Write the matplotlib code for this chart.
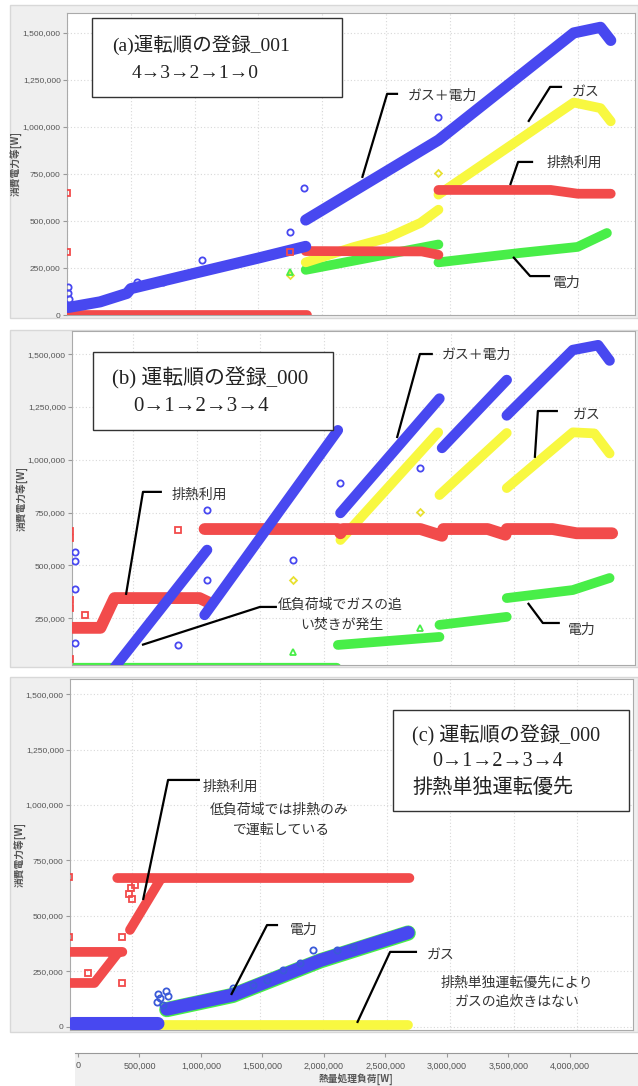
import numpy as np
import matplotlib
matplotlib.use("Agg")
import matplotlib.pyplot as plt
from matplotlib.patches import Rectangle
from matplotlib.ticker import FuncFormatter

plt.rcParams['font.family'] = ['Noto Sans CJK JP', 'DejaVu Sans']

nan = np.nan

# series colours
C_BLUE = '#4848f0'
C_RED = '#f24b4b'
C_YEL = '#f8f840'
C_GRN = '#48ee48'

# all values in thousands of W, nan breaks a series into segments
# (a) order 4->3->2->1->0
A_BLUE_X = [10, 260, 470, 500, 1000, 1500, 1870, nan, 1870, 2910, 3970, 4180, 4260]
A_BLUE_Y = [40, 70, 115, 140, 222, 303, 365, nan, 505, 930, 1500, 1530, 1460]
A_YEL_X = [1870, 2240, 2510, 2770, 2910, nan, 2910, 3970, 4180, 4260]
A_YEL_Y = [280, 360, 410, 490, 560, nan, 640, 1130, 1100, 1030]
A_RED_X = [0, 1880, nan, 1870, 2780, 2910, nan, 2910, 3790, 4000, 4260]
A_RED_Y = [0, 0, nan, 340, 338, 320, nan, 665, 665, 645, 645]
A_GRN_X = [1870, 2910, nan, 2910, 3550, 4000, 4230]
A_GRN_Y = [240, 375, nan, 280, 330, 362, 436]

A_BLUE_PTS_X = [10, 10, 15, 550, 750, 1060, 1750, 1860, 2910]
A_BLUE_PTS_Y = [150, 115, 85, 176, 176, 293, 443, 675, 1055]
A_RED_PTS_X = [0, 0, 1750]
A_RED_PTS_Y = [650, 335, 335]
A_YEL_PTS_X = [1750, 2910]
A_YEL_PTS_Y = [215, 755]
A_GRN_PTS_X = [1750]
A_GRN_PTS_Y = [228]

# (b) order 0->1->2->3->4
B_BLUE_X = [330, 1080, nan, 1060, 2110, nan, 2130, 2910, nan, 2930, 3440, nan, 3440, 3960, 4160, 4250]
B_BLUE_Y = [0, 573, nan, 265, 1140, nan, 748, 1290, nan, 1056, 1378, nan, 1210, 1520, 1543, 1470]
B_YEL_X = [2130, 2900, nan, 2910, 3440, nan, 3440, 3960, 4130, 4250]
B_YEL_Y = [620, 1130, nan, 833, 1127, nan, 866, 1130, 1125, 1030]
B_RED_X = [20, 240, 350, 1020, 1100, nan, 1060, 2110, 2130, 2150, 2760, 2930, 2940,
           3290, 3430, 3440, 3800, 3990, 4270]
B_RED_Y = [204, 204, 345, 345, 322, nan, 672, 672, 652, 672, 672, 640, 672,
           672, 645, 672, 672, 652, 652]
B_GRN_X = [30, 2100, nan, 2110, 2910, nan, 2910, 3440, nan, 3440, 3960, 4250]
B_GRN_Y = [15, 15, nan, 123, 161, nan, 218, 256, nan, 345, 383, 440]

B_BLUE_PTS_X = [40, 40, 40, 40, 850, 1080, 1080, 1760, 2130, 2760]
B_BLUE_PTS_Y = [565, 520, 390, 130, 123, 762, 431, 525, 890, 960]
B_RED_PTS_X = [0, 0, 0, 0, 0, 120, 850]
B_RED_PTS_Y = [665, 630, 335, 300, 55, 265, 667]
B_YEL_PTS_X = [1760, 2760]
B_YEL_PTS_Y = [430, 753]
B_GRN_PTS_X = [1760, 2760]
B_GRN_PTS_Y = [90, 203]

# (c) order 0->1->2->3->4, exhaust heat only first
C_BLUE_X = [30, 700, nan, 770, 1290, 1980, 2670]
C_BLUE_Y = [15, 15, nan, 80, 144, 300, 425]
C_YEL_X = [700, 2670]
C_YEL_Y = [10, 10]
C_RED_X = [0, 40, nan, 10, 200, 380, nan, 10, 420, nan, 480, 720, nan, 380, 2680]
C_RED_Y = [12, 12, nan, 198, 198, 330, nan, 338, 338, nan, 437, 665, nan, 671, 671]
C_GRN_X = [770, 1290, 1980, 2670]
C_GRN_Y = [78, 142, 298, 423]

C_BLUE_PTS_X = [690, 700, 720, 740, 760, 780, 1291, 1449, 1559, 1685, 1819, 1921, 2110, 2236]
C_BLUE_PTS_Y = [110, 150, 130, 100, 160, 140, 176, 189, 212, 257, 288, 347, 345, 362]
C_RED_PTS_X = [0, 0, 150, 417, 417, 470, 490, 500, 520]
C_RED_PTS_Y = [675, 405, 243, 405, 200, 600, 625, 575, 640]

Y_TICKS = [0, 250, 500, 750, 1000, 1250, 1500]
X_TICKS = [0, 500, 1000, 1500, 2000, 2500, 3000, 3500, 4000]

W, H = 638, 1086
fig = plt.figure(figsize=(W / 100, H / 100), dpi=100)


def px_rect(x0, y0, x1, y1):
    return [x0 / W, 1 - y1 / H, (x1 - x0) / W, (y1 - y0) / H]


def frame(x0, y0, x1, y1):
    r = Rectangle((x0 / W, 1 - y1 / H), (x1 - x0) / W, (y1 - y0) / H,
                  transform=fig.transFigure, fc='#efefef', ec='#d8d8d8', lw=1, zorder=0)
    fig.add_artist(r)


def k(v):
    return np.array(v, dtype=float) * 1e3


def setup(ax, xlim, ylim):
    # ticks first, limits after, so the ticks do not widen the view
    ax.set_xticks(k(X_TICKS))
    ax.set_yticks(k(Y_TICKS))
    ax.set_xlim(k(xlim))
    ax.set_ylim(k(ylim))
    ax.set_facecolor('white')
    ax.yaxis.set_major_formatter(FuncFormatter(lambda v, _: f'{int(round(v)):,}'))
    ax.tick_params(axis='x', length=0, labelbottom=False)
    ax.tick_params(axis='y', length=3, width=0.8, color='#999999', pad=1.5,
                   labelsize=6, labelcolor='#555555')
    for lab in ax.get_yticklabels():
        lab.set_family('Liberation Sans')
    ax.grid(True, color='#d8d8d8', ls=(0, (1, 2)), lw=0.8)
    ax.set_axisbelow(True)
    for s in ax.spines.values():
        s.set_color('#aaaaaa')
        s.set_linewidth(0.8)
    ax.text(-0.09, 0.5, '消費電力等[W]', transform=ax.transAxes, rotation=90,
            ha='center', va='center', fontsize=7, fontweight='bold', color='#555555')


def series(ax, x, y, color, lw=7, z=3):
    ax.plot(k(x), k(y), color=color, lw=lw, solid_capstyle='round',
            solid_joinstyle='round', zorder=z, clip_on=True)


def points(ax, x, y, color, marker, ms=4.5, z=4):
    ax.plot(k(x), k(y), ls='none', marker=marker, ms=ms, mfc='none', mec=color,
            mew=1.3, zorder=z)


def leader(ax, xs, ys, text, tx, ty, size=10):
    ax.plot(k(xs), k(ys), color='black', lw=1.6, zorder=6, solid_capstyle='butt')
    ax.text(tx * 1e3, ty * 1e3, text, fontsize=size, ha='left', va='center',
            color='#333333', zorder=7)


def note_box(ax, box, lines, size):
    x0, y0, x1, y1 = box
    ax.add_patch(Rectangle((x0, y0), x1 - x0, y1 - y0, transform=ax.transAxes,
                           fc='white', ec='#333333', lw=1, zorder=8))
    for tx, ty, s in lines:
        ax.text(tx, ty, s, transform=ax.transAxes, fontsize=size, ha='left', va='center',
                color='#222222', family=['Liberation Serif', 'Noto Sans CJK JP'], zorder=9)


# ---- (a)
frame(10, 5, 638, 318)
ax = fig.add_axes(px_rect(67, 13, 635, 315))
setup(ax, (0, 4450), (0, 1606))
series(ax, A_GRN_X, A_GRN_Y, C_GRN, z=2)
series(ax, A_YEL_X, A_YEL_Y, C_YEL, z=2.5)
series(ax, A_RED_X, A_RED_Y, C_RED, z=3)
series(ax, A_BLUE_X, A_BLUE_Y, C_BLUE, lw=8, z=3.5)
points(ax, A_BLUE_PTS_X, A_BLUE_PTS_Y, C_BLUE, 'o')
points(ax, A_RED_PTS_X, A_RED_PTS_Y, C_RED, 's')
points(ax, A_YEL_PTS_X, A_YEL_PTS_Y, '#e8e030', 'D', ms=3.5)
points(ax, A_GRN_PTS_X, A_GRN_PTS_Y, C_GRN, '^')
note_box(ax, (0.044, 0.722, 0.484, 0.983),
         [(0.079, 0.894, '(a)運転順の登録_001'), (0.114, 0.801, '4→3→2→1→0')], 14)
leader(ax, [2312, 2508, 2594], [729, 1176, 1176], 'ガス＋電力', 2672, 1165)
leader(ax, [3613, 3785, 3879], [1027, 1213, 1213], 'ガス', 3958, 1186)
leader(ax, [3472, 3534, 3652], [691, 814, 814], '排熱利用', 3754, 808)
leader(ax, [3495, 3628, 3785], [309, 207, 207], '電力', 3809, 170)

# ---- (b)
frame(10, 330, 638, 667)
ax = fig.add_axes(px_rect(72, 331, 635, 665))
setup(ax, (16, 4450), (28, 1610))
series(ax, B_GRN_X, B_GRN_Y, C_GRN, z=2)
series(ax, B_YEL_X, B_YEL_Y, C_YEL, z=2.5)
series(ax, B_RED_X, B_RED_Y, C_RED, lw=8.5, z=3)
series(ax, B_BLUE_X, B_BLUE_Y, C_BLUE, lw=7.5, z=3.5)
points(ax, B_BLUE_PTS_X, B_BLUE_PTS_Y, C_BLUE, 'o')
points(ax, B_RED_PTS_X, B_RED_PTS_Y, C_RED, 's')
points(ax, B_YEL_PTS_X, B_YEL_PTS_Y, '#e8e030', 'D', ms=3.5)
points(ax, B_GRN_PTS_X, B_GRN_PTS_Y, C_GRN, '^')
note_box(ax, (0.037, 0.704, 0.464, 0.938),
         [(0.071, 0.858, '(b) 運転順の登録_000'), (0.108, 0.775, '0→1→2→3→4')], 15)
leader(ax, [441, 575, 724], [360, 848, 848], '排熱利用', 803, 833)
leader(ax, [567, 1496, 1630], [123, 303, 303], '低負荷域でガスの追', 1638, 312)
ax.text(1811e3, 218e3, 'い焚きが発生', fontsize=10, ha='left', va='center',
        color='#333333', zorder=7)
leader(ax, [2575, 2756, 2858], [1103, 1501, 1501], 'ガス＋電力', 2929, 1496)
leader(ax, [3661, 3685, 3843], [1009, 1231, 1231], 'ガス', 3961, 1212)
leader(ax, [3606, 3724, 3858], [322, 227, 227], '電力', 3921, 194)

# ---- (c)
frame(10, 677, 638, 1032)
ax = fig.add_axes(px_rect(70, 679, 633, 1030))
setup(ax, (8, 4440), (-14, 1568))
series(ax, C_YEL_X, C_YEL_Y, C_YEL, z=2.5)
series(ax, C_RED_X, C_RED_Y, C_RED, z=3)
series(ax, C_GRN_X, C_GRN_Y, C_GRN, lw=11, z=3.2)
series(ax, C_BLUE_X, C_BLUE_Y, C_BLUE, lw=9.5, z=3.5)
points(ax, C_BLUE_PTS_X, C_BLUE_PTS_Y, '#3a5ad8', 'o')
points(ax, C_RED_PTS_X, C_RED_PTS_Y, C_RED, 's')
note_box(ax, (0.574, 0.623, 0.993, 0.912),
         [(0.608, 0.841, '(c) 運転順の登録_000'), (0.644, 0.765, '0→1→2→3→4'),
          (0.608, 0.688, '排熱単独運転優先')], 14.5)
leader(ax, [583, 780, 1031], [572, 1113, 1113], '排熱利用', 1055, 1081)
ax.text(1110e3, 978e3, '低負荷域では排熱のみ', fontsize=10, ha='left', va='center',
        color='#333333', zorder=7)
ax.text(1291e3, 887e3, 'で運転している', fontsize=10, ha='left', va='center',
        color='#333333', zorder=7)
leader(ax, [1276, 1559, 1646], [144, 459, 459], '電力', 1740, 437)
leader(ax, [2268, 2528, 2740], [18, 338, 338], 'ガス', 2819, 324)
ax.text(3528e3, 198e3, '排熱単独運転優先により', fontsize=10, ha='center', va='center',
        color='#333333', zorder=7)
ax.text(3528e3, 113e3, 'ガスの追炊きはない', fontsize=10, ha='center', va='center',
        color='#333333', zorder=7)

# ---- shared x axis strip
fig.add_artist(Rectangle((75 / W, 0), (W - 75) / W, (H - 1053) / H,
                         transform=fig.transFigure, fc='#f0f0f0', ec='none', zorder=0))
axx = fig.add_axes(px_rect(75, 1052, 638, 1053))
axx.set_xticks(k(X_TICKS))
axx.set_xlim(k((-24, 4553)))
axx.set_ylim(0, 1)
axx.set_facecolor('none')
axx.set_yticks([])
axx.xaxis.set_major_formatter(FuncFormatter(lambda v, _: f'{int(round(v)):,}'))
axx.tick_params(axis='x', length=3, width=0.8, color='#999999', pad=3,
                labelsize=6.5, labelcolor='#555555')
for lab in axx.get_xticklabels():
    lab.set_family('Liberation Sans')
for name in ('top', 'left', 'right'):
    axx.spines[name].set_visible(False)
axx.spines['bottom'].set_color('#999999')
axx.set_xlabel('熱量処理負荷[W]', fontsize=7, fontweight='bold', color='#555555', labelpad=2)

fig.savefig('out.png', dpi=100, facecolor='white')
